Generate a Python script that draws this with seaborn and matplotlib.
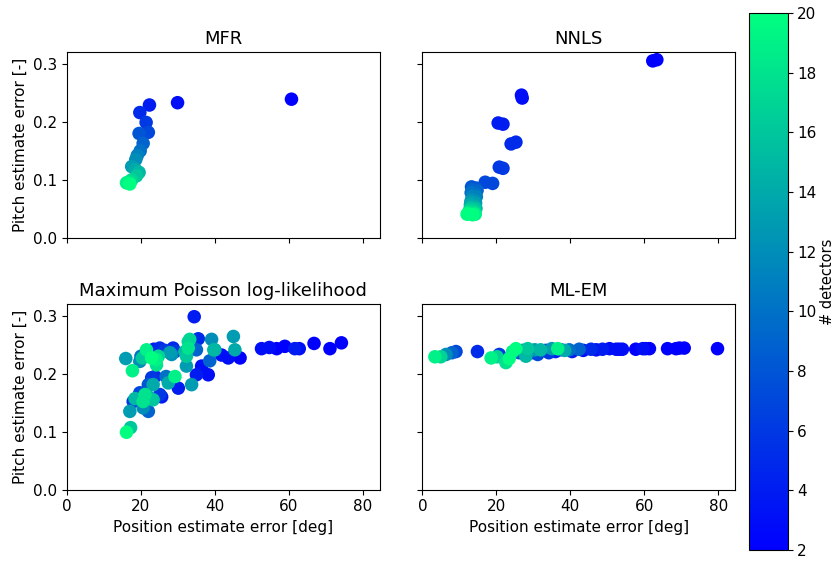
import numpy as np
import pandas as pd
import matplotlib
matplotlib.use("Agg")
import matplotlib.pyplot as plt
import seaborn as sns

# ---------------- data ----------------
titles = ["MFR", "NNLS", "Maximum Poisson log-likelihood", "ML-EM"]

mfr_pos = [60.7, 29.9, 22.3, 19.7, 21.4, 22.0, 19.5, 20.6, 19.8, 19.0, 18.6, 17.5, 18.5, 19.5, 18.8, 17.5, 16.8, 16.1, 17.0]
mfr_pitch = [0.239, 0.233, 0.229, 0.216, 0.199, 0.182, 0.180, 0.163, 0.150, 0.142, 0.135, 0.123, 0.118, 0.113, 0.107, 0.100, 0.097, 0.095, 0.093]
mfr_det = [2, 3, 4, 5, 6, 7, 8, 9, 10, 11, 12, 13, 14, 15, 16, 17, 18, 19, 20]

nnls_pos = [62.3, 63.4, 26.8, 27.0, 20.5, 21.8, 24.0, 25.3, 20.8, 21.8, 17.0, 19.0,
            13.3, 14.5, 13.5, 14.8, 13.2, 14.3, 13.6, 14.6, 13.3, 14.2, 13.1, 14.4,
            13.0, 14.1, 13.2, 14.5, 12.9, 14.2, 12.8, 14.0, 12.6, 13.9, 12.3, 14.3, 12.1, 13.6]
nnls_pitch = [0.305, 0.307, 0.246, 0.241, 0.198, 0.196, 0.162, 0.165, 0.122, 0.120, 0.096, 0.094,
              0.088, 0.086, 0.083, 0.082, 0.078, 0.076, 0.072, 0.071, 0.066, 0.064, 0.062, 0.060,
              0.057, 0.055, 0.053, 0.051, 0.050, 0.049, 0.047, 0.046, 0.044, 0.043, 0.042, 0.041, 0.041, 0.040]
nnls_det = [2, 2, 3, 3, 4, 4, 5, 5, 6, 6, 7, 7, 8, 8, 9, 9, 10, 10, 11, 11, 12, 12, 13, 13,
            14, 14, 15, 15, 16, 16, 17, 17, 18, 18, 19, 19, 20, 20]

mpl_pos = [34.4, 74.2, 71.1, 66.8, 62.8, 61.6, 58.9, 56.7, 54.7, 52.6, 46.8, 43.6, 41.8,
           45.0, 45.4, 39.1, 39.7, 38.6, 38.2, 36.4, 35.0, 35.5, 33.7, 30.1, 29.2, 27.4,
           32.8, 32.8, 32.3, 28.7, 27.8, 25.1, 24.7, 24.2, 22.9, 21.5, 20.4, 19.7, 17.7,
           15.9, 22.9, 22.0, 23.3, 26.8, 25.1, 23.3, 22.0, 20.6, 19.7, 18.4, 17.9, 17.0,
           22.0, 20.6, 17.2, 16.1, 33.2, 31.9, 35.0, 29.2, 24.2, 28.3, 32.3, 23.8, 25.6, 21.1, 40.0,
           23.5, 26.5, 20.0]
mpl_pitch = [0.298, 0.253, 0.243, 0.252, 0.243, 0.243, 0.247, 0.243, 0.245, 0.243, 0.227, 0.227, 0.232,
             0.264, 0.241, 0.259, 0.241, 0.222, 0.198, 0.213, 0.198, 0.260, 0.181, 0.175, 0.195, 0.184,
             0.255, 0.244, 0.230, 0.244, 0.236, 0.244, 0.230, 0.215, 0.227, 0.241, 0.227, 0.221, 0.205,
             0.226, 0.193, 0.181, 0.181, 0.195, 0.164, 0.155, 0.160, 0.152, 0.167, 0.157, 0.152, 0.135,
             0.135, 0.141, 0.107, 0.099, 0.259, 0.238, 0.241, 0.238, 0.224, 0.233, 0.213, 0.195, 0.160, 0.164, 0.241,
             0.242, 0.240, 0.230]
mpl_det = [4, 2, 2, 2, 3, 4, 2, 2, 3, 3, 2, 3, 3,
           13, 14, 12, 15, 9, 3, 3, 4, 5, 13, 4, 19, 14,
           17, 18, 16, 5, 13, 5, 17, 18, 20, 19, 16, 12, 19,
           13, 6, 8, 14, 10, 6, 16, 14, 18, 7, 15, 6, 13,
           9, 12, 16, 20, 17, 15, 9, 6, 19, 12, 13, 5, 4, 18, 14,
           4, 6, 10]

mlem_pos = [3.4, 5.0, 6.4, 8.0, 9.1, 14.9, 18.6, 20.2, 20.8, 22.6, 23.5, 24.4, 25.3, 26.2,
            27.1, 28.0, 28.5, 29.5, 30.4, 31.2, 32.0, 33.4, 34.2, 35.0, 36.0, 36.6, 37.5,
            38.5, 39.7, 40.5, 42.4, 43.5, 45.6, 47.0, 48.7, 50.6, 52.4, 53.2, 54.1, 57.7,
            59.6, 60.3, 61.4, 66.3, 68.6, 69.5, 70.8, 79.8]
mlem_pitch = [0.229, 0.229, 0.233, 0.236, 0.238, 0.238, 0.227, 0.229, 0.233, 0.219, 0.226, 0.238, 0.243, 0.236,
              0.240, 0.230, 0.243, 0.236, 0.241, 0.233, 0.241, 0.240, 0.236, 0.243, 0.238, 0.243, 0.241,
              0.240, 0.241, 0.238, 0.242, 0.240, 0.242, 0.241, 0.242, 0.243, 0.242, 0.242, 0.242, 0.242,
              0.243, 0.243, 0.243, 0.243, 0.243, 0.244, 0.244, 0.243]
mlem_det = [19, 17, 12, 9, 7, 5, 19, 17, 6, 18, 20, 19, 20, 8,
            11, 15, 16, 6, 13, 7, 15, 5, 6, 13, 4, 19, 9,
            14, 10, 4, 9, 3, 5, 3, 4, 3, 3, 2, 3, 2,
            3, 2, 2, 2, 2, 2, 2, 2]

cbar_ticks = [2, 4, 6, 8, 10, 12, 14, 16, 18, 20]

# ---------------- figure ----------------
plt.rcParams["font.size"] = 11

fig, axes = plt.subplots(2, 2, sharex=True, sharey=True, figsize=(8.37, 5.61), dpi=100)
fig.subplots_adjust(left=0.080, right=0.878, bottom=0.127, top=0.907, wspace=0.137, hspace=0.355)

datasets = [(mfr_pos, mfr_pitch, mfr_det), (nnls_pos, nnls_pitch, nnls_det),
            (mpl_pos, mpl_pitch, mpl_det), (mlem_pos, mlem_pitch, mlem_det)]

norm = matplotlib.colors.Normalize(vmin=2, vmax=20)
for ax, title, (px, py, pn) in zip(axes.flat, titles, datasets):
    df = pd.DataFrame({"pos": px, "pitch": py, "det": pn}).sort_values("det", kind="stable")
    sns.scatterplot(data=df, x="pos", y="pitch", hue="det", palette="winter", hue_norm=norm,
                    s=95, linewidth=0, legend=False, ax=ax)
    ax.set_title(title, fontsize=13)
    ax.set_xlabel("Position estimate error [deg]", fontsize=11)
    ax.set_ylabel("Pitch estimate error [-]", fontsize=11)

axes[0, 0].set_xlim(0, 84.5)
axes[0, 0].set_ylim(0, 0.32)
axes[0, 0].set_xticks([0, 20, 40, 60, 80])
axes[0, 0].set_yticks([0.0, 0.1, 0.2, 0.3])

cax = fig.add_axes([0.895, 0.0196, 0.046, 0.957])
sm = matplotlib.cm.ScalarMappable(norm=norm, cmap="winter")
cb = fig.colorbar(sm, cax=cax, ticks=cbar_ticks)
cb.set_label("# detectors", fontsize=10.5, labelpad=2.5)

fig.savefig("out.png", dpi=100)
